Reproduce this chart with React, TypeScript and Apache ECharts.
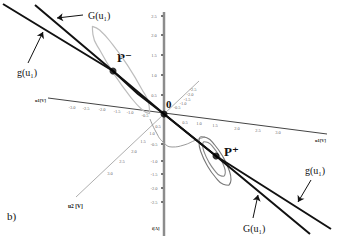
import React, { useEffect, useRef } from 'react';
import * as echarts from 'echarts';

// geometry of the projected 3D drawing (chart units = pixels of the 340x240 frame)
const curveG = [[35, 5], [113, 71], [138, 92], [164, 114], [216, 156], [310, 234]];
const curveSmallG = [[3, 4], [113, 71], [138, 94], [164, 114], [216, 156], [331, 229]];
const keyPoints = [[113, 71], [164, 114], [216, 156]];
const ellipseMinus = [
  [149.6, 113.7], [149.1, 105.6], [141.1, 88], [127.7, 65.6], [112.5, 44.4], [99.6, 30],
  [92.4, 26.3], [92.9, 34.4], [100.9, 52], [114.3, 74.4], [129.5, 95.6], [142.4, 110], [149.6, 113.7],
];
const ellipsePlusOuter = [
  [229, 185.2], [231, 179.7], [228.75, 169.2], [222.8, 156.5], [214.75, 145], [206.8, 137.75],
  [201, 136.8], [199, 142.25], [201.25, 152.8], [207.2, 165.5], [215.25, 177], [223.2, 184.25], [229, 185.2],
];
const ellipsePlusInner = [
  [224, 176.3], [225.3, 172.5], [223.5, 165.1], [219.2, 156], [213.5, 147.7], [208, 142.5],
  [204, 141.7], [202.7, 145.5], [204.5, 152.9], [208.8, 162], [214.5, 170.3], [220, 175.5], [224, 176.3],
];
const grayCurve = [[150, 119], [156, 132], [163, 142], [172, 147], [184, 145], [196, 140], [205, 137]];
const axisI = [[164, 12], [164, 236]];
const axisU1 = [[48, 98], [327, 134]];
const axisU2 = [[199, 81], [76, 197]];

const iTickLabels = ['2.5', '2.0', '1.5', '1.0', '0.5', '-0.5', '-1.0', '-1.5', '-2.0', '-2.5'];
const iTickY = [16, 35, 55, 75, 95, 144, 161, 174, 188, 202];
const u1TickLabels = ['-3.0', '-2.5', '-2.0', '-1.5', '-1.0', '-0.5', '0.5', '1.0', '1.5', '2.0', '2.5', '3.0'];
const u1TickPos = [[72, 107], [86, 108], [102, 109], [117, 111], [130, 112], [145, 115], [185, 122], [199, 123], [215, 125], [237, 128], [258, 130], [278, 132]];
const u2TickLabels = ['0.5', '1.0', '1.5', '2.0', '2.5', '3.0', '-0.5', '-1.0', '-1.5', '-2.0', '-2.5'];
const u2TickPos = [[158, 126], [152, 133], [143, 141], [134, 151], [122, 161], [110, 173], [177, 107], [183, 103], [187, 99], [190, 94], [193, 89]];

const arrows = [
  [[83, 15], [57, 18]],
  [[28, 63], [43, 32]],
  [[311, 180], [298, 202]],
  [[253, 218], [258, 195]],
];

const SERIF = '"Liberation Serif", "DejaVu Serif", serif';

export default function App() {
  const ref = useRef<HTMLDivElement>(null);
  useEffect(() => {
    if (!ref.current) return;
    const chart = echarts.init(ref.current, undefined, { renderer: 'svg' });
    const line = (data: number[][], color: string, width: number, z = 2, smooth: boolean | number = false) => ({
      type: 'line', data, symbol: 'none', smooth, z, silent: true,
      lineStyle: { color, width }, animation: false,
    });
    const tickSeries = (pos: number[][], labels: string[], fs: number) => ({
      type: 'scatter', symbolSize: 0, z: 3, silent: true,
      data: pos.map((p, i) => [p[0], p[1], labels[i]]),
      label: {
        show: true, position: 'inside', formatter: (p: any) => p.value[2],
        fontSize: fs, color: '#333', fontFamily: SERIF,
      },
    });
    chart.setOption({
      animation: false,
      backgroundColor: '#ffffff',
      grid: { left: 0, right: 0, top: 0, bottom: 0 },
      xAxis: { type: 'value', min: 0, max: 340, show: false },
      yAxis: { type: 'value', min: 0, max: 240, inverse: true, show: false },
      series: [
        line(axisU2, '#999999', 0.8, 1),
        line(axisU1, '#444444', 1, 1),
        line(axisI, '#8c8c8c', 2.5, 1),
        line(ellipseMinus, '#bdbdbd', 1.2, 2, 0.5),
        line(grayCurve, '#9a9a9a', 1, 2, 0.5),
        line(ellipsePlusOuter, '#777777', 1.1, 2, 0.5),
        line(ellipsePlusInner, '#888888', 1.1, 2, 0.5),
        line(curveG, '#111111', 2, 4),
        line(curveSmallG, '#111111', 2, 4),
        {
          type: 'scatter', data: keyPoints, symbolSize: 7, z: 5, silent: true,
          itemStyle: { color: '#000' },
        },
        {
          type: 'scatter', data: iTickY.map((y) => [162, y]), symbol: 'rect', symbolSize: [2, 1.5], z: 3,
          itemStyle: { color: '#222' }, silent: true,
        },
        tickSeries(iTickY.map((y) => [154, y]), iTickLabels, 4.5),
        tickSeries(u1TickPos, u1TickLabels, 4.5),
        tickSeries(u2TickPos, u2TickLabels, 4.5),
        {
          type: 'lines', coordinateSystem: 'cartesian2d', z: 6, silent: true,
          symbol: ['none', 'arrow'], symbolSize: 6,
          lineStyle: { color: '#111', width: 1, opacity: 1 },
          data: arrows.map((c) => ({ coords: c })),
        },
      ],
      graphic: [
        { type: 'text', x: 88, y: 15, style: { text: 'G(u₁)', font: `10px ${SERIF}`, fill: '#111', verticalAlign: 'middle' } },
        { type: 'text', x: 17, y: 72, style: { text: 'g(u₁)', font: `10px ${SERIF}`, fill: '#111', verticalAlign: 'middle' } },
        { type: 'text', x: 305, y: 170, style: { text: 'g(u₁)', font: `10px ${SERIF}`, fill: '#111', verticalAlign: 'middle' } },
        { type: 'text', x: 243, y: 228, style: { text: 'G(u₁)', font: `10px ${SERIF}`, fill: '#111', verticalAlign: 'middle' } },
        { type: 'text', x: 117, y: 57, style: { text: 'P⁻', font: `bold 13px ${SERIF}`, fill: '#111', verticalAlign: 'middle' } },
        { type: 'text', x: 224, y: 151, style: { text: 'P⁺', font: `bold 13px ${SERIF}`, fill: '#111', verticalAlign: 'middle' } },
        { type: 'text', x: 166, y: 104, style: { text: '0', font: `bold 11px ${SERIF}`, fill: '#111', verticalAlign: 'middle' } },
        { type: 'text', x: 7, y: 216, style: { text: 'b)', font: `11px ${SERIF}`, fill: '#111', verticalAlign: 'middle' } },
        { type: 'text', x: 35, y: 100, style: { text: 'u1[V]', font: `bold 4.5px ${SERIF}`, fill: '#222', verticalAlign: 'middle' } },
        { type: 'text', x: 315, y: 140, style: { text: 'u1[V]', font: `bold 4.5px ${SERIF}`, fill: '#222', verticalAlign: 'middle' } },
        { type: 'text', x: 68, y: 206, style: { text: 'u2 [V]', font: `bold 5.5px ${SERIF}`, fill: '#111', verticalAlign: 'middle' } },
        { type: 'text', x: 152, y: 228, style: { text: 'i[A]', font: `bold 4.5px ${SERIF}`, fill: '#222', verticalAlign: 'middle' } },
      ],
    });
    return () => chart.dispose();
  }, []);
  return <div ref={ref} style={{ position: 'fixed', left: 0, top: 0, width: 340, height: 240 }} />;
}
